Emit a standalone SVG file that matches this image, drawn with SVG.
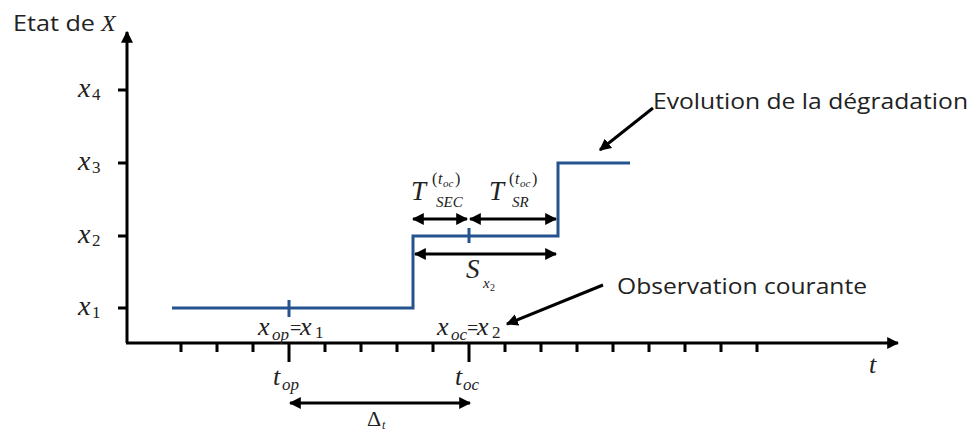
<svg xmlns="http://www.w3.org/2000/svg" width="974" height="434" viewBox="0 0 974 434">
<style>
.ax{stroke:#000;stroke-width:3;fill:none}
.tk{stroke:#000;stroke-width:3}
.bl{stroke:#25538f;stroke-width:3;fill:none}
.ar{stroke:#000;stroke-width:3;fill:none}
.m{font-family:"Liberation Serif",serif;font-style:italic;fill:#222}
.u{font-family:"Liberation Serif",serif;font-style:normal;fill:#222}
.s{font-family:"Open Sans","Liberation Sans",sans-serif;fill:#222}
</style>
<defs>
<marker id="ah" viewBox="0 0 10 10" refX="9" refY="5" markerWidth="4" markerHeight="4" orient="auto-start-reverse" markerUnits="strokeWidth">
<path d="M0,0 L10,5 L0,10 z" fill="#000"/>
</marker>
</defs>
<rect width="974" height="434" fill="#fff"/>
<g id="axes">
<path class="ax" d="M126,343 H898" marker-end="url(#ah)"/>
<path class="ax" d="M127,343 V32" marker-end="url(#ah)"/>
<path class="tk" d="M118,90 H127 M118,163 H127 M118,236 H127 M118,308 H127"/>
<path class="tk" d="M181,343 V352 M217,343 V352 M253,343 V352 M325,343 V352 M361,343 V352 M397,343 V352 M433,343 V352 M505,343 V352 M541,343 V352 M577,343 V352 M613,343 V352 M649,343 V352 M685,343 V352 M721,343 V352 M757,343 V352"/>
<path class="tk" d="M289,343 V362 M469,343 V362"/>
</g>
<g id="axis-labels">
<text class="s" x="13" y="31" font-size="22" textLength="82" lengthAdjust="spacingAndGlyphs">Etat de</text>
<text class="m" x="101" y="31" font-size="24">X</text>
<text class="m" x="78" y="97" font-size="28">x</text><text class="u" x="92" y="100" font-size="17">4</text>
<text class="m" x="78" y="170" font-size="28">x</text><text class="u" x="92" y="173" font-size="17">3</text>
<text class="m" x="78" y="243" font-size="28">x</text><text class="u" x="92" y="246" font-size="17">2</text>
<text class="m" x="78" y="315" font-size="28">x</text><text class="u" x="92" y="318" font-size="17">1</text>
<text class="m" x="869" y="373" font-size="26">t</text>
</g>
<g id="degradation">
<path class="bl" d="M172,308 H413 V236 H558 V163 H630"/>
<path class="bl" d="M289,300 V317 M469,228 V243"/>
</g>
<g id="connectors">
<path class="ar" d="M413,219 H467" marker-start="url(#ah)" marker-end="url(#ah)"/>
<path class="ar" d="M470,219 H556" marker-start="url(#ah)" marker-end="url(#ah)"/>
<path class="ar" d="M415,254 H556" marker-start="url(#ah)" marker-end="url(#ah)"/>
<path class="ar" d="M290,403 H470" marker-start="url(#ah)" marker-end="url(#ah)"/>
<path class="ar" d="M653,108 L600,150" marker-end="url(#ah)"/>
<path class="ar" d="M603,285 L507,324" marker-end="url(#ah)"/>
</g>
<g id="labels">
<text class="m" x="411" y="200" font-size="27">T</text>
<text class="u" x="432" y="184" font-size="16">(</text><text class="m" x="438" y="184" font-size="16">t</text><text class="m" x="443" y="187" font-size="11">oc</text><text class="u" x="455" y="184" font-size="16">)</text>
<text class="m" x="436" y="207" font-size="15">SEC</text>
<text class="m" x="489" y="200" font-size="27">T</text>
<text class="u" x="509" y="184" font-size="16">(</text><text class="m" x="515" y="184" font-size="16">t</text><text class="m" x="520" y="187" font-size="11">oc</text><text class="u" x="532" y="184" font-size="16">)</text>
<text class="m" x="512" y="207" font-size="15">SR</text>
<text class="m" x="466" y="278" font-size="27">S</text><text class="m" x="483" y="288" font-size="15">x</text><text class="u" x="490" y="291" font-size="10">2</text>
<text class="m" x="258" y="335" font-size="26">x</text><text class="m" x="272" y="340" font-size="17">op</text><text class="u" x="290" y="335" font-size="20">=</text><text class="m" x="300" y="335" font-size="26">x</text><text class="u" x="315" y="338" font-size="17">1</text>
<text class="m" x="437" y="335" font-size="26">x</text><text class="m" x="451" y="340" font-size="17">oc</text><text class="u" x="467" y="335" font-size="20">=</text><text class="m" x="477" y="335" font-size="26">x</text><text class="u" x="492" y="338" font-size="17">2</text>
<text class="m" x="273" y="385" font-size="26">t</text><text class="m" x="282" y="390" font-size="17">op</text>
<text class="m" x="455" y="385" font-size="26">t</text><text class="m" x="463" y="390" font-size="17">oc</text>
<text class="u" x="367" y="426" font-size="22">Δ</text><text class="m" x="382" y="429" font-size="12">t</text>
<text class="s" x="653" y="109" font-size="22" textLength="315" lengthAdjust="spacingAndGlyphs">Evolution de la dégradation</text>
<text class="s" x="617" y="294" font-size="22" textLength="250" lengthAdjust="spacingAndGlyphs">Observation courante</text>
</g>
</svg>
